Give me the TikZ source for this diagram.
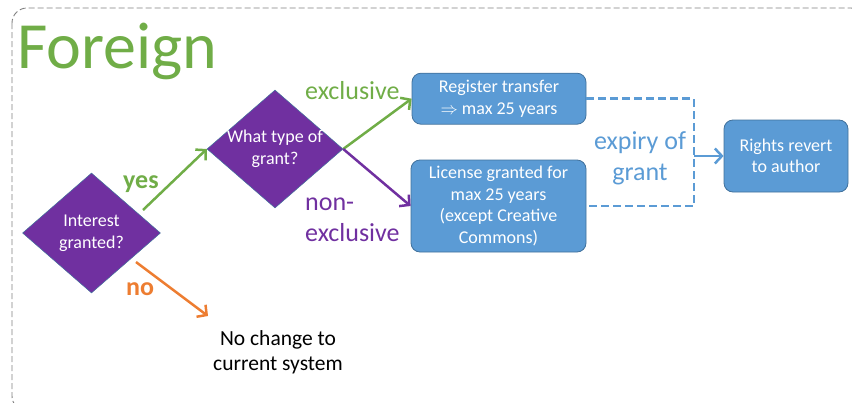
\documentclass[tikz,border=0pt]{standalone}
\usepackage{fontspec}
\setmainfont{Carlito}
\usetikzlibrary{shapes.geometric,arrows.meta}
\definecolor{grantgreen}{HTML}{70AD47}
\definecolor{grantpurple}{HTML}{7030A0}
\definecolor{boxblue}{HTML}{5B9BD5}
\definecolor{boxedge}{HTML}{41719C}
\definecolor{noorange}{HTML}{ED7D31}
\definecolor{framegray}{HTML}{7F7F7F}
\newcommand{\fsz}[2]{\fontsize{#1}{#2}\selectfont}

\begin{document}
\begin{tikzpicture}[x=1pt,y=-1pt,
  question/.style={diamond,aspect=1.15,fill=grantpurple,draw=boxedge,line width=0.5pt,inner sep=-2pt,text=white,align=center,font=\fsz{18}{22}},
  outcome/.style={rectangle,rounded corners=9pt,fill=boxblue,draw=boxedge,line width=0.8pt,inner sep=2pt,text=white,align=center,font=\fsz{18}{21.5}},
  flow/.style={line width=2.5pt,-{Straight Barb[length=7pt,width=15pt]}},
  answer/.style={font=\fsz{26}{31},inner sep=0pt,anchor=base west}]
\useasboundingbox (0,0) rectangle (852,402);
\begin{scope}
\clip (0,0) rectangle (852,402);
\draw[framegray, line width=0.9pt, dash pattern=on 6pt off 3pt, rounded corners=15pt] (12,8) rectangle (866,411);
\end{scope}

\node[text=grantgreen, font=\fsz{66}{66}, inner sep=0pt, anchor=base west] (title) at (17,68) {Foreign};

\node[question, minimum width=138pt, minimum height=120pt] (interest) at (91.5,233) {Interest\\granted?};
\node[question, minimum width=136pt, minimum height=118pt] (granttype) at (275,149) {What type of\\grant?};

\node[outcome, minimum width=174pt, minimum height=51pt] (register) at (499,98.7) {Register transfer\\$\Rightarrow$ max 25 years};
\node[outcome, minimum width=175pt, minimum height=92pt] (licence) at (498.5,206) {License granted for\\max 25 years\\(except Creative\\Commons)};
\node[outcome, minimum width=124pt, minimum height=72pt] (revert) at (786,156) {Rights revert\\to author};

\node[align=center, font=\fsz{21.5}{25}] (nochange) at (278,352) {No change to\\current system};
\node[align=center, font=\fsz{26}{31}, text=boxblue] (expiry) at (640,158) {expiry of\\grant};

\coordinate (yesfrom) at (143,210);
\coordinate (nofrom) at (136,262);
\coordinate (noto) at (208,316);
\coordinate (join) at (694,156);

\draw[flow, grantgreen] (yesfrom) -- (granttype.west);
\draw[flow, grantgreen] (granttype.east) -- (register.west);
\draw[flow, grantpurple] (granttype.east) -- (licence.west);
\draw[flow, noorange] (nofrom) -- (noto);
\draw[boxblue, line width=2.5pt, dash pattern=on 8pt off 4pt] (register.east) -| (join) |- (licence.east);
\draw[flow, boxblue] (join) -- (revert.west);

\node[answer, text=grantgreen] (exclusivelbl) at (305,99) {exclusive};
\node[answer, text=grantgreen, font=\bfseries\fsz{26}{31}] (yeslbl) at (123,188) {yes};
\node[answer, text=grantpurple, align=left, anchor=west] (nonexclusivelbl) at (305,220) {non-\\exclusive};
\node[answer, text=noorange, font=\bfseries\fsz{26}{31}] (nolbl) at (126,295) {no};
\end{tikzpicture}
\end{document}
